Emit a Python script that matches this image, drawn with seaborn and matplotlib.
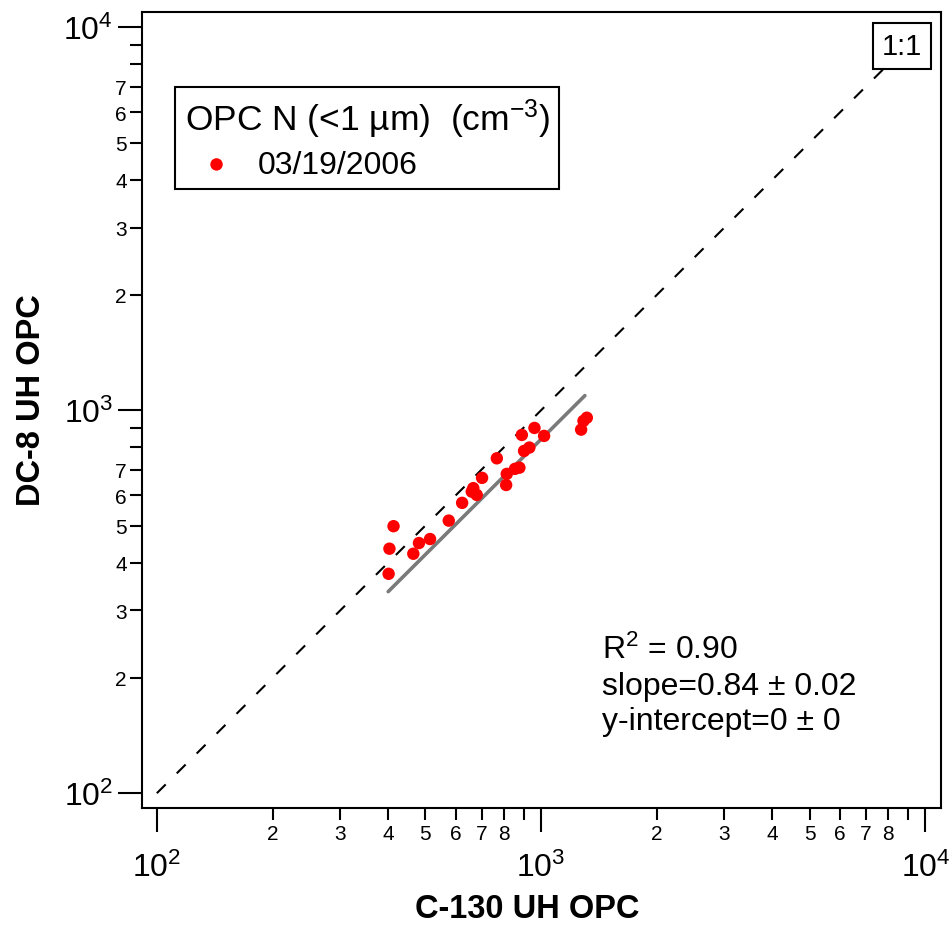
import numpy as np
import pandas as pd
import seaborn as sns
import matplotlib
matplotlib.use("Agg")
import matplotlib.pyplot as plt
from matplotlib.ticker import LogLocator, FuncFormatter, LogFormatterMathtext

# ---------------- data ----------------
c130_opc = [413, 403, 401, 465, 481, 514, 575, 623, 666, 660, 680, 702, 767,
            811, 814, 855, 878, 891, 903, 932, 961, 1018, 1271, 1289, 1315]
dc8_opc = [498, 435, 374, 422, 450, 461, 515, 573, 626, 613, 601, 666, 749,
           638, 682, 703, 708, 862, 783, 799, 899, 857, 890, 938, 956]
series_label = "03/19/2006"
legend_title = "OPC N (<1 µm)  (cm$^{\\mathsf{-3}}$)"
fit_slope = 0.84
fit_x_range = [400, 1300]
one_to_one_range = [100, 10000]
stats_lines = ["R$^{2}$ = 0.90", "slope=0.84 ± 0.02", "y-intercept=0 ± 0"]
x_label = "C-130 UH OPC"
y_label = "DC-8 UH OPC"
x_minor_labeled = [2, 3, 4, 5, 6, 7, 8]
y_minor_labeled = [2, 3, 4, 5, 6, 7]

df = pd.DataFrame({"c130": c130_opc, "dc8": dc8_opc})

# ---------------- style ----------------
sns.set_style("ticks")
plt.rcParams["font.family"] = ["Liberation Sans", "DejaVu Sans"]
plt.rcParams["mathtext.fontset"] = "custom"
plt.rcParams["mathtext.rm"] = "Liberation Sans"
plt.rcParams["mathtext.sf"] = "Liberation Sans"
plt.rcParams["mathtext.it"] = "Liberation Sans:italic"
plt.rcParams["mathtext.bf"] = "Liberation Sans:bold"
for k in ["text.color", "axes.labelcolor", "xtick.color", "ytick.color",
          "axes.edgecolor"]:
    plt.rcParams[k] = "black"

fig = plt.figure(figsize=(9.53, 9.28), dpi=100)
ax = fig.add_axes([142 / 953, 1 - 809 / 928, (941 - 142) / 953, (809 - 13) / 928])

# 1:1 line
ax.plot(one_to_one_range, one_to_one_range, color="black", lw=1.5,
        dashes=(6, 7.5), zorder=2)
# fit line
fx = np.array(fit_x_range, dtype=float)
ax.plot(fx, fit_slope * fx, color="#7a7a7a", lw=2.6, zorder=3)

sns.scatterplot(data=df, x="c130", y="dc8", color="red", s=80,
                edgecolor="none", linewidth=0, label=series_label, ax=ax,
                zorder=4)

ax.set_xscale("log")
ax.set_yscale("log")
ax.set_xlim(91.5, 10980)
ax.set_ylim(91.5, 10960)

for a in (ax.xaxis, ax.yaxis):
    a.set_major_locator(LogLocator(base=10, numticks=10))
    a.set_minor_locator(LogLocator(base=10, subs=range(2, 10), numticks=100))
    a.set_major_formatter(LogFormatterMathtext())


def minor_fmt(labeled):
    def f(v, pos):
        if v <= 0:
            return ""
        d = int(round(v / 10 ** np.floor(np.log10(v) + 1e-9)))
        return str(d) if d in labeled else ""
    return FuncFormatter(f)


ax.xaxis.set_minor_formatter(minor_fmt(x_minor_labeled))
ax.yaxis.set_minor_formatter(minor_fmt(y_minor_labeled))

ax.tick_params(which="major", direction="out", length=17.3, width=1.5,
               labelsize=23, color="black", labelcolor="black")
ax.tick_params(which="minor", direction="out", length=8.6, width=1.5,
               labelsize=15, color="black", labelcolor="black")
ax.tick_params(axis="x", which="major", pad=14)
ax.tick_params(axis="x", which="minor", pad=3.0)
ax.tick_params(axis="y", which="major", pad=3.6)
ax.tick_params(axis="y", which="minor", pad=2.4)
ax.tick_params(top=False, right=False)

for sp in ax.spines.values():
    sp.set_visible(True)
    sp.set_linewidth(1.5)
    sp.set_color("black")

ax.set_xlabel(x_label, fontsize=23.5, fontweight="bold")
ax.set_ylabel(y_label, fontsize=23.5, fontweight="bold")
ax.xaxis.set_label_coords((527 - 142) / 799, (809 - 894) / 796)
ax.yaxis.set_label_coords((47 - 142) / 799, (809 - 400) / 796)

# legend
leg = ax.legend(title=legend_title, loc="upper left",
                bbox_to_anchor=((175 - 142) / 799, (809 - 88) / 796),
                borderaxespad=0, frameon=True, fancybox=False,
                edgecolor="black", framealpha=1, fontsize=23,
                title_fontsize=25.5, borderpad=0.3, handlelength=2.0,
                handletextpad=0.3, labelspacing=0.1)
leg.get_frame().set_linewidth(1.5)
leg._legend_box.align = "left"
leg._legend_box.sep = 7

# 1:1 label
ax.text((902 - 142) / 799, (809 - 47) / 796, "1:1", transform=ax.transAxes,
        fontsize=21, ha="center", va="center", zorder=6,
        bbox=dict(boxstyle="square,pad=0.3", fc="white", ec="black", lw=1.5))

# stats text
for txt, yb in zip(stats_lines, [659, 695, 730]):
    ax.text((602 - 142) / 799, (809 - yb) / 796, txt, transform=ax.transAxes,
            fontsize=23, ha="left", va="baseline")

fig.savefig("out.png", dpi=100)
